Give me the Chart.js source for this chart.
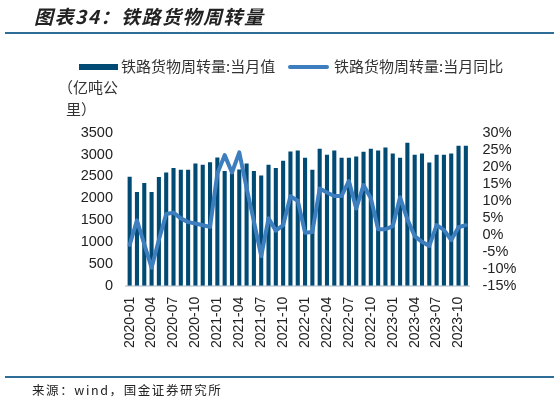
<!DOCTYPE html>
<html>
<head>
<meta charset="utf-8">
<script src="https://cdn.jsdelivr.net/npm/chart.js@4.4.1/dist/chart.umd.min.js"></script>
<style>
  html, body { margin: 0; padding: 0; background: #fff; }
  #wrap { position: relative; width: 559px; height: 404px; overflow: hidden; font-family: "Liberation Sans", "Noto Sans CJK SC", sans-serif; }
  #c { position: absolute; left: 0; top: 0; }
  .abs { position: absolute; white-space: nowrap; }
  #title { left: 34px; top: 4px; font-family: "Noto Sans CJK SC", sans-serif; font-weight: bold; font-style: italic; font-size: 19px; letter-spacing: 1.5px; color: #222; line-height: 24px; }
  .rule { position: absolute; left: 5px; width: 549px; height: 2px; background: #2D6D98; }
  .leg { font-family: "Noto Sans CJK SC", sans-serif; font-size: 15px; color: #333; line-height: 18px; }
  #footer { left: 32px; top: 381px; font-family: "Noto Sans CJK SC", sans-serif; font-size: 12.5px; letter-spacing: 1.6px; color: #222; line-height: 18px; }
</style>
</head>
<body>
<div id="wrap">
  <canvas id="c" width="559" height="404"></canvas>
  <div id="title" class="abs">图表34：铁路货物周转量</div>
  <div class="rule" style="top:32px"></div>
  <div class="abs" style="left:79px;top:64px;width:39px;height:6px;background:#014A73"></div>
  <div class="abs leg" style="left:121px;top:57px">铁路货物周转量:当月值</div>
  <div class="abs" style="left:288px;top:65px;width:41px;height:4px;background:#3D7EBF;border-radius:2px"></div>
  <div class="abs leg" style="left:334px;top:57px">铁路货物周转量:当月同比</div>
  <div class="abs leg" style="left:58px;top:78px">（亿吨公</div>
  <div class="abs leg" style="left:66px;top:100px">里）</div>
  <div class="rule" style="top:376px"></div>
  <div id="footer" class="abs">来源：wind，国金证券研究所</div>
</div>
<script>
// ---- data ----
const months = [
  "2020-01","2020-02","2020-03","2020-04","2020-05","2020-06","2020-07","2020-08","2020-09","2020-10","2020-11","2020-12",
  "2021-01","2021-02","2021-03","2021-04","2021-05","2021-06","2021-07","2021-08","2021-09","2021-10","2021-11","2021-12",
  "2022-01","2022-02","2022-03","2022-04","2022-05","2022-06","2022-07","2022-08","2022-09","2022-10","2022-11","2022-12",
  "2023-01","2023-02","2023-03","2023-04","2023-05","2023-06","2023-07","2023-08","2023-09","2023-10","2023-11"
];
const freightValue = [
  2490, 2142, 2348, 2142, 2485, 2591, 2690, 2652, 2652, 2797, 2765, 2825,
  2930, 2622, 2570, 2660, 2797, 2622, 2520, 2765, 2690, 2860, 3068, 3095,
  2927, 2652, 3133, 2995, 3095, 2927, 2927, 2957, 3064, 3133, 3095, 3163,
  3026, 2927, 3270, 2995, 3026, 2820, 2995, 2995, 3026, 3201, 3201
];
const freightYoY = [
  -3.0, 4.2, -2.8, -9.7, -1.5, 6.1, 6.5, 4.8, 3.7, 3.3, 2.8, 2.3,
  18.0, 23.4, 18.3, 24.2, 13.8, 3.9, -6.3, 4.8, 1.2, 2.8, 11.3, 10.0,
  0.6, 0.8, 13.6, 12.4, 11.4, 11.4, 15.8, 7.7, 14.6, 10.7, 1.6, 1.6,
  2.5, 11.0, 4.5, -0.4, -2.1, -3.3, 2.8, 1.4, -1.6, 2.2, 2.8
];
const leftTicks = { min: 0, max: 3500, step: 500 };
const rightTicks = { min: -15, max: 30, step: 5 };
const labelEvery = 3;

const tickFont = { family: "'Liberation Sans', Arial, sans-serif", size: 14.5 };

new Chart(document.getElementById('c'), {
  data: {
    labels: months,
    datasets: [
      {
        type: 'line',
        label: '铁路货物周转量:当月同比',
        data: freightYoY,
        yAxisID: 'y1',
        borderColor: '#3D7EBF',
        borderWidth: 4,
        pointRadius: 0,
        tension: 0,
        borderJoinStyle: 'round',
        borderCapStyle: 'round',
        order: 0
      },
      {
        type: 'bar',
        label: '铁路货物周转量:当月值',
        data: freightValue,
        yAxisID: 'y',
        backgroundColor: '#014A73',
        categoryPercentage: 1.0,
        barPercentage: 0.56,
        order: 1
      }
    ]
  },
  options: {
    responsive: false,
    animation: false,
    devicePixelRatio: 1,
    layout: { padding: { left: 0, right: 0, top: 132.7, bottom: 0 } },
    plugins: { legend: { display: false }, tooltip: { enabled: false } },
    scales: {
      x: {
        type: 'category',
        offset: true,
        grid: { display: false, drawTicks: false },
        border: { display: true, color: '#d5dbe0', width: 2 },
        ticks: {
          autoSkip: false,
          maxRotation: 90,
          minRotation: 90,
          padding: 11,
          color: '#222',
          font: { family: "'Liberation Sans', Arial, sans-serif", size: 14 },
          callback: function (v, i) { return i % labelEvery === 0 ? months[i] : ''; }
        },
        afterFit: function (s) { s.height = 118.3; }
      },
      y: {
        position: 'left',
        min: leftTicks.min,
        max: leftTicks.max,
        grid: { display: false, drawTicks: false },
        border: { display: false },
        ticks: {
          stepSize: leftTicks.step, autoSkip: false, padding: 13, color: '#222', font: tickFont,
          callback: function (v) { return String(v); }
        },
        afterFit: function (s) { s.width = 126; }
      },
      y1: {
        position: 'right',
        min: rightTicks.min,
        max: rightTicks.max,
        grid: { display: false, drawTicks: false },
        border: { display: false },
        ticks: {
          stepSize: rightTicks.step, autoSkip: false, padding: 13, color: '#222', font: tickFont,
          callback: function (v) { return v + '%'; }
        },
        afterFit: function (s) { s.width = 89.5; }
      }
    }
  }
});
</script>
</body>
</html>
